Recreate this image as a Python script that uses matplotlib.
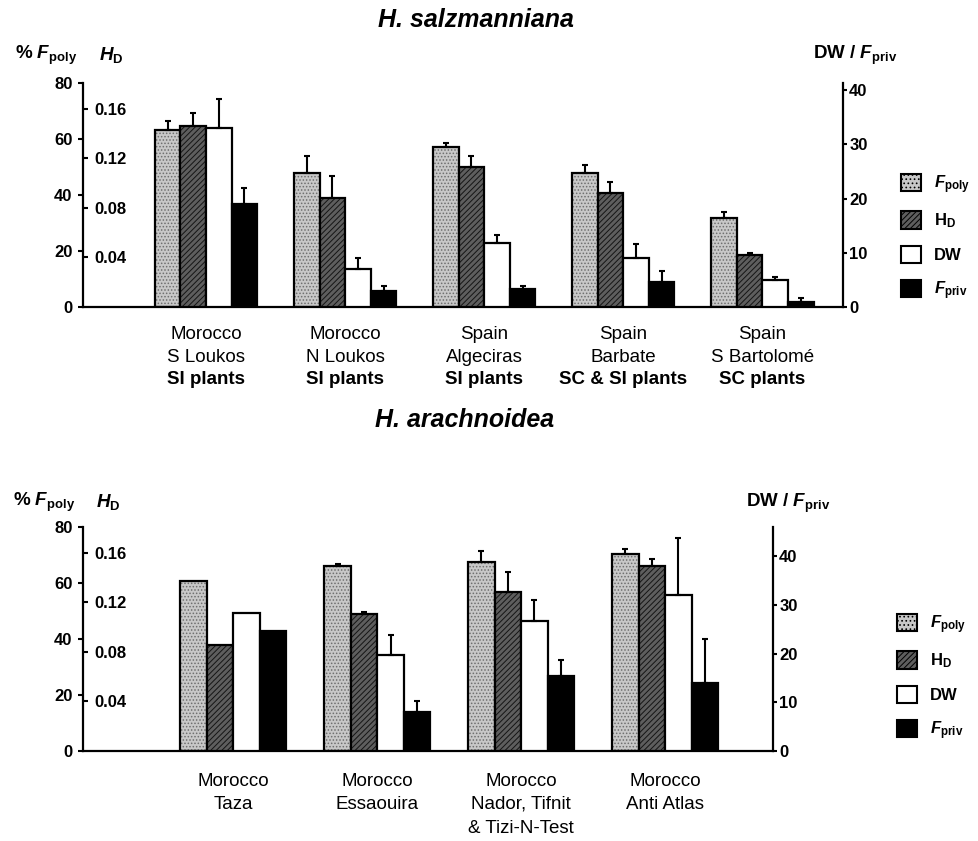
import numpy as np
import matplotlib
matplotlib.use('Agg')
import matplotlib.pyplot as plt
from matplotlib.patches import Patch

plt.rcParams['font.family'] = ['Liberation Sans', 'DejaVu Sans']
plt.rcParams['font.weight'] = 'bold'
plt.rcParams['mathtext.fontset'] = 'custom'
plt.rcParams['mathtext.rm'] = 'Liberation Sans:bold'
plt.rcParams['mathtext.it'] = 'Liberation Sans:italic:bold'
plt.rcParams['mathtext.bf'] = 'Liberation Sans:bold'
plt.rcParams['hatch.linewidth'] = 0.7

# H. salzmanniana
sal_line1 = ['Morocco', 'Morocco', 'Spain', 'Spain', 'Spain']
sal_line2 = ['S Loukos', 'N Loukos', 'Algeciras', 'Barbate', 'S Bartolomé']
sal_line3 = ['SI plants', 'SI plants', 'SI plants', 'SC & SI plants', 'SC plants']
sal_fpoly = [63.2, 47.8, 57.3, 48.0, 31.9]
sal_fpoly_err = [3.2, 6.1, 1.1, 2.6, 1.9]
sal_hd = [0.146, 0.088, 0.113, 0.092, 0.042]
sal_hd_err = [0.011, 0.018, 0.009, 0.009, 0.0015]
sal_dw = [33.0, 7.0, 11.8, 9.0, 4.9]
sal_dw_err = [5.3, 2.0, 1.5, 2.6, 0.6]
sal_fpriv = [18.9, 3.0, 3.4, 4.6, 1.0]
sal_fpriv_err = [3.0, 0.9, 0.5, 2.1, 0.7]

# H. arachnoidea
ara_line1 = ['Morocco', 'Morocco', 'Morocco', 'Morocco']
ara_line2 = ['Taza', 'Essaouira', 'Nador, Tifnit', 'Anti Atlas']
ara_line3 = ['', '', '& Tizi-N-Test', '']
ara_fpoly = [60.8, 66.1, 67.6, 70.2]
ara_fpoly_err = [0, 0.6, 3.9, 1.9]
ara_hd = [0.0855, 0.111, 0.1286, 0.1495]
ara_hd_err = [0, 0.0015, 0.0157, 0.0055]
ara_dw = [28.3, 19.7, 26.6, 32.0]
ara_dw_err = [0, 4.1, 4.5, 11.7]
ara_fpriv = [24.7, 8.1, 15.4, 14.0]
ara_fpriv_err = [0, 2.2, 3.2, 9.0]

legend_labels = [r'$F_{\rm poly}$', r'$\rm H_D$', 'DW', r'$F_{\rm priv}$']

fig = plt.figure(figsize=(9.79, 8.41), dpi=100)
W = 0.184
TICK_FS = 12
CAT_FS = 13.5


def errs(a, xs, vals, e):
    xs = np.array(xs); vals = np.array(vals); e = np.array(e)
    m = e > 0
    a.errorbar(xs[m], vals[m], yerr=[np.zeros(m.sum()), e[m]], fmt='none',
               ecolor='k', elinewidth=1.5, capsize=2.5, capthick=1.5, zorder=3)


def panel(rect, xlim, rtop, fpoly, fpoly_err, hd, hd_err, dw, dw_err, fpriv, fpriv_err,
          l1, l2, l3, offs, bold3):
    ax = fig.add_axes(rect)
    axh = ax.twinx()
    axr = ax.twinx()
    x = np.arange(len(fpoly))

    # F_poly : light stippled grey
    ax.bar(x - 1.5 * W, fpoly, W, color='#c8c8c8', edgecolor='#6e6e6e', hatch='.....', lw=0)
    ax.bar(x - 1.5 * W, fpoly, W, fill=False, edgecolor='k', lw=1.6)
    errs(ax, x - 1.5 * W, fpoly, fpoly_err)
    # H_D : dark hatched
    axh.bar(x - 0.5 * W, hd, W, color='#5e5e5e', edgecolor='#151515', hatch='//////', lw=0)
    axh.bar(x - 0.5 * W, hd, W, fill=False, edgecolor='k', lw=1.6)
    errs(axh, x - 0.5 * W, hd, hd_err)
    # DW white, F_priv black
    axr.bar(x + 0.5 * W, dw, W, color='white', edgecolor='k', lw=1.6)
    errs(axr, x + 0.5 * W, dw, dw_err)
    axr.bar(x + 1.5 * W, fpriv, W, color='black', edgecolor='k', lw=1.6)
    errs(axr, x + 1.5 * W, fpriv, fpriv_err)

    ax.set_xlim(xlim)
    ax.set_ylim(0, 80)
    axh.set_ylim(0, 0.181)
    axr.set_ylim(0, rtop)

    ax.set_yticks([0, 20, 40, 60, 80])
    ax.tick_params(axis='y', direction='out', length=3.5, width=1.5, pad=4, labelsize=TICK_FS)
    ax.set_xticks([])
    for s in ['top', 'right']:
        ax.spines[s].set_visible(False)
    ax.spines['left'].set_linewidth(1.6)
    ax.spines['bottom'].set_linewidth(1.6)

    axh.yaxis.set_ticks_position('left')
    axh.set_yticks([0.04, 0.08, 0.12, 0.16])
    axh.set_yticklabels(['0.04', '0.08', '0.12', '0.16'], ha='left')
    axh.tick_params(axis='y', direction='in', length=3.5, width=1.5, pad=-8.5, labelsize=TICK_FS)
    for s in axh.spines.values():
        s.set_visible(False)

    axr.set_yticks([0, 10, 20, 30, 40])
    axr.tick_params(axis='y', direction='out', length=3, width=1.5, pad=1.5, labelsize=TICK_FS)
    for s in ['top', 'left', 'bottom']:
        axr.spines[s].set_visible(False)
    axr.spines['right'].set_linewidth(1.6)

    tr = ax.get_xaxis_transform()
    for i in x:
        ax.annotate(l1[i], xy=(i, 0), xycoords=tr, xytext=(0, -offs[0]),
                    textcoords='offset points', ha='center', va='center',
                    fontsize=CAT_FS, fontweight='normal')
        ax.annotate(l2[i], xy=(i, 0), xycoords=tr, xytext=(0, -offs[1]),
                    textcoords='offset points', ha='center', va='center',
                    fontsize=CAT_FS, fontweight='normal')
        ax.annotate(l3[i], xy=(i, 0), xycoords=tr, xytext=(0, -offs[2]),
                    textcoords='offset points', ha='center', va='center',
                    fontsize=CAT_FS, fontweight='bold' if bold3 else 'normal')
    return ax


def legend(x, y):
    handles = [Patch(facecolor='#c8c8c8', edgecolor='k', hatch='....', lw=1.5),
               Patch(facecolor='#5e5e5e', edgecolor='k', hatch='//////', lw=1.5),
               Patch(facecolor='white', edgecolor='k', lw=1.5),
               Patch(facecolor='black', edgecolor='k', lw=1.5)]
    fig.legend(handles, legend_labels, loc='upper left', bbox_to_anchor=(x, y),
               frameon=False, fontsize=12, handlelength=1.2, handleheight=1.2,
               labelspacing=0.95, handletextpad=0.8, borderpad=0, borderaxespad=0)


# top panel
panel([83 / 979, 1 - 307 / 841, 760 / 979, 224 / 841], (-0.885, 4.58), 41.3,
      sal_fpoly, sal_fpoly_err, sal_hd, sal_hd_err, sal_dw, sal_dw_err,
      sal_fpriv, sal_fpriv_err, sal_line1, sal_line2, sal_line3,
      (20, 36, 52.5), True)
fig.text(476 / 979, 1 - 20 / 841, 'H. salzmanniana', ha='center', va='center',
         fontsize=18, fontweight='bold', style='italic')
fig.text(15 / 979, 1 - 55 / 841, r'% $F_{\rm poly}$', ha='left', va='center', fontsize=13.5)
fig.text(99 / 979, 1 - 55 / 841, r'$H_{\rm D}$', ha='left', va='center', fontsize=13.5)
fig.text(897 / 979, 1 - 55 / 841, r'DW / $F_{\rm priv}$', ha='right', va='center', fontsize=13.5)
legend(901 / 979, 1 - 173 / 841)

# bottom panel
panel([83 / 979, 1 - 751 / 841, 690 / 979, 224 / 841], (-1.045, 3.75), 46,
      ara_fpoly, ara_fpoly_err, ara_hd, ara_hd_err, ara_dw, ara_dw_err,
      ara_fpriv, ara_fpriv_err, ara_line1, ara_line2, ara_line3,
      (22.3, 38.5, 55.5), False)
fig.text(465 / 979, 1 - 420 / 841, 'H. arachnoidea', ha='center', va='center',
         fontsize=18, fontweight='bold', style='italic')
fig.text(13 / 979, 1 - 502 / 841, r'% $F_{\rm poly}$', ha='left', va='center', fontsize=13.5)
fig.text(96 / 979, 1 - 502 / 841, r'$H_{\rm D}$', ha='left', va='center', fontsize=13.5)
fig.text(830 / 979, 1 - 503 / 841, r'DW / $F_{\rm priv}$', ha='right', va='center', fontsize=13.5)
legend(897 / 979, 1 - 613 / 841)

fig.savefig('out.png', dpi=100)
